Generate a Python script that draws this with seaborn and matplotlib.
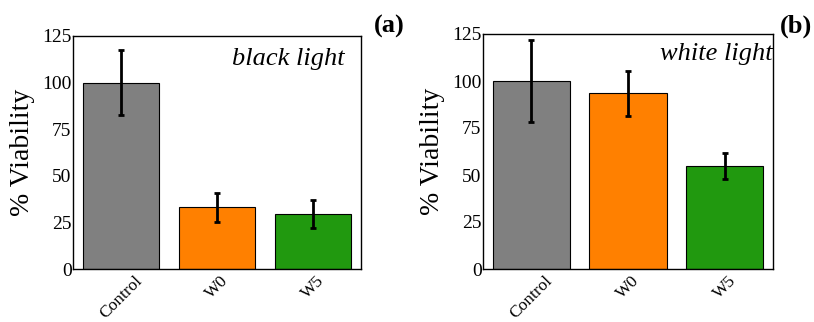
import matplotlib
matplotlib.use("Agg")
import matplotlib.pyplot as plt
import seaborn as sns
import pandas as pd

categories = ["Control", "W0", "W5"]
black_vals = [100, 33, 29.5]
black_err = [17.5, 8, 7.5]
white_vals = [100, 93.5, 54.8]
white_err = [22, 12, 7]
yticks = [0, 25, 50, 75, 100, 125]
colors = ["#808080", "#ff8000", "#21990f"]

sns.set_theme(style="white")
plt.rcParams["font.family"] = ["Liberation Serif", "DejaVu Serif"]
plt.rcParams["text.color"] = "black"
plt.rcParams["xtick.color"] = "black"
plt.rcParams["ytick.color"] = "black"
plt.rcParams["axes.labelcolor"] = "black"

fig = plt.figure(figsize=(8.14, 3.22), dpi=100)
ax1 = fig.add_axes([73/814, 1-269/322, (361-73)/814, (269-36)/322])
ax2 = fig.add_axes([483/814, 1-269/322, (773-483)/814, (269-34)/322])

panels = [(ax1, black_vals, black_err, "black light", "(a)", 0.944, 0.95, 405/814),
          (ax2, white_vals, white_err, "white light", "(b)", 0.997, 0.96, 812/814)]

for ax, vals, errs, txt, lab, tx, ty, lx in panels:
    df = pd.DataFrame({"cat": categories, "val": vals})
    sns.barplot(data=df, x="cat", y="val", hue="cat", palette=colors,
                legend=False, width=0.8, edgecolor="black", linewidth=0.8,
                errorbar=None, ax=ax, saturation=1)
    ax.errorbar(range(len(categories)), vals, yerr=errs, fmt="none",
                ecolor="black", elinewidth=2, capsize=2.5, capthick=2)
    ax.set_xlim(-0.5, 2.5)
    ax.set_ylim(0, 125)
    ax.set_yticks(yticks)
    ax.set_yticklabels([str(t) for t in yticks], fontsize=14)
    ax.set_xticks(range(len(categories)))
    ax.set_xticklabels(categories, rotation=45, ha="center", fontsize=12.5)
    ax.tick_params(axis="x", length=0, pad=3)
    ax.tick_params(axis="y", length=0, pad=1)
    ax.set_xlabel("")
    ax.set_ylabel("% Viability", fontsize=20, labelpad=5)
    for s in ax.spines.values():
        s.set_color("black")
        s.set_linewidth(1)
    ax.text(tx, ty, txt, transform=ax.transAxes, ha="right", va="top",
            fontsize=19, style="italic")
    fig.text(lx, 1 - 15/322, lab, ha="right", va="top",
             fontsize=19, fontweight="bold")

fig.savefig("out.png", dpi=100)
